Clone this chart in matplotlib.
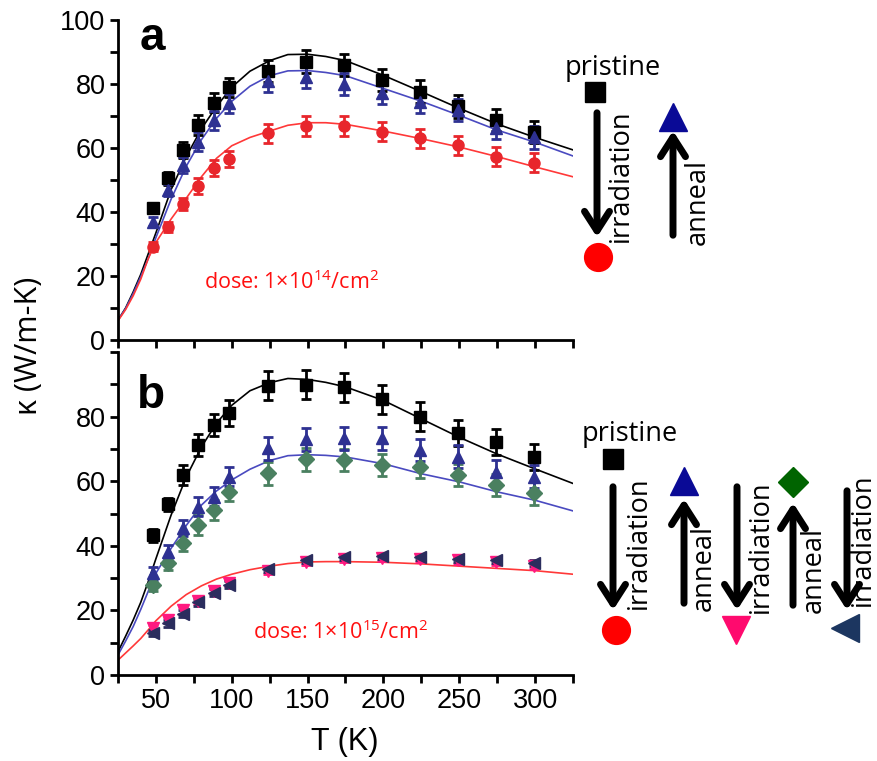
import matplotlib
matplotlib.use('Agg')
import matplotlib.pyplot as plt
from matplotlib.patches import FancyArrowPatch
from matplotlib.ticker import MultipleLocator

plt.rcParams['font.family'] = ['Liberation Sans', 'DejaVu Sans']
plt.rcParams['mathtext.fontset'] = 'custom'
plt.rcParams['mathtext.rm'] = 'Open Sans'

# measured points
T_pts = [48, 58, 68, 78, 88, 98, 124, 149, 174, 199, 224, 249, 274, 299]

a_black = [41.1, 50.5, 59.4, 67.2, 74.2, 79, 84, 87, 86, 81.3, 77.6, 73, 68.8, 65]
a_black_err = [1.5, 2, 2.5, 3, 3, 3, 3.5, 3.5, 3.5, 3.5, 3.5, 3.5, 3.5, 3.5]
a_blue = [37, 46.9, 54.7, 62, 68.7, 74, 81, 82.3, 80, 77.2, 74.5, 71.9, 66.2, 63.3]
a_blue_err = [1.5, 2, 2.5, 3, 3, 3, 3.5, 3.5, 3.5, 3.5, 3.5, 3.5, 3.5, 3.5]
a_red = [29.2, 35.4, 42.5, 48.1, 53.6, 56.5, 64.6, 66.9, 66.9, 65.1, 63, 60.9, 57.3, 55.4]
a_red_err = [1.5, 1.5, 2, 2.5, 2.5, 2.5, 3, 3, 3, 3, 3, 3, 3, 3]

b_black = [43.3, 52.9, 61.9, 71.2, 77.4, 81, 89.5, 89.8, 89.1, 85.3, 80, 74.8, 72.2, 67.6]
b_black_err = [2, 2, 3, 3.5, 3.5, 4, 4.5, 4.5, 4.5, 4.5, 4.5, 4, 4, 4]
b_blue = [31.5, 38.2, 45.4, 52.1, 55.2, 61.4, 70.2, 73, 73.3, 73.3, 69.7, 67.6, 63, 61.4]
b_blue_err = [2, 2, 2.5, 3, 3, 3, 3.5, 3.5, 3.5, 3.5, 3.5, 3.5, 3.5, 3.5]
b_green = [27.9, 34.6, 41, 46.4, 51.1, 56.8, 62.4, 66.8, 66.6, 65, 64.5, 61.9, 58.8, 56.2]
b_green_err = [2, 2, 2.5, 3, 3, 3, 3.5, 3.5, 3.5, 3.5, 3.5, 3.5, 3.5, 3.5]
b_pink = [14.5, 17, 20, 23, 26, 28.5, 32.3, 35, 36, 36.3, 36, 35.5, 35, 33.8]
b_navy = [13, 16, 19, 22.5, 25.5, 28, 32.8, 35.6, 36.5, 36.8, 36.5, 36, 35.6, 34.6]
b_small_err = [1, 1, 1, 1, 1, 1, 1, 1, 1, 1, 1, 1, 1, 1]

# fitted curves
T_fit = [25, 30, 35, 40, 45, 50, 60, 70, 80, 90, 100, 112, 125, 137, 150, 162, 175,
         200, 225, 250, 275, 300, 325]
a_black_fit = [6.2, 10, 15, 20.5, 27, 33.5, 47, 57.3, 66, 73, 79, 84, 87.3, 89.2, 89.3,
               88.6, 87.3, 82.7, 77.6, 72.4, 67.5, 63.3, 59.4]
a_blue_fit = [6.2, 9.8, 14.5, 19.8, 25.5, 32, 44, 54.3, 62.6, 69.3, 74.6, 79.3, 82.6, 84.1,
              84.2, 83.6, 82.6, 78.6, 74.6, 70.2, 65.6, 61.8, 57.5]
a_red_fit = [6, 9.5, 13.8, 19, 25.5, 30.5, 37.8, 44.3, 51, 56.8, 60.7, 63.3, 65.3, 67.1,
             67.9, 67.9, 67.4, 65.3, 62.9, 60.3, 57.3, 54.1, 51]
b_black_fit = [7.2, 12, 17, 22.5, 29, 36, 49.5, 61.3, 70.6, 78, 83.5, 88, 90.5, 91.8, 91.5,
               90.6, 89.2, 85, 79.3, 73.6, 68.4, 63.8, 59.3]
b_blue_fit = [6.2, 10.5, 15, 20.3, 26, 31.5, 39.2, 46.3, 52.6, 57, 60.4, 63.7, 66.4, 67.9,
              68.2, 68, 67.5, 65.4, 62.3, 59.8, 56.7, 54.1, 50.8]
b_red_fit = [4.6, 6.8, 9, 11.3, 14, 16.8, 21.3, 24.9, 27.6, 29.7, 31.2, 32.6, 33.7, 34.5,
             35, 35.1, 35.1, 34.9, 34.4, 33.7, 33, 32.3, 31.2]

W, H = 878, 761
fig = plt.figure(figsize=(W / 100, H / 100), dpi=100)


def fx(px):
    return px / W


def fy(py):
    return 1 - py / H


ax1 = fig.add_axes([fx(118), fy(340), fx(573) - fx(118), fy(20) - fy(340)])
ax2 = fig.add_axes([fx(118), fy(675), fx(573) - fx(118), fy(352) - fy(675)])

eb = dict(capsize=3.5, elinewidth=2, capthick=2, ls='none', markersize=8, zorder=3)

ax1.plot(T_fit, a_black_fit, color='black', lw=1.2)
ax1.plot(T_fit, a_blue_fit, color='#4a4ac0', lw=1.2)
ax1.plot(T_fit, a_red_fit, color='#ff3838', lw=1.2)
ax1.errorbar(T_pts, a_black, yerr=a_black_err, marker='s', color='black', **eb)
ax1.errorbar(T_pts, a_blue, yerr=a_blue_err, marker='^', color='#2e3192', **eb)
ax1.errorbar(T_pts, a_red, yerr=a_red_err, marker='o', color='#e8262c', **eb)

ax2.plot(T_fit, b_black_fit, color='black', lw=1.2)
ax2.plot(T_fit, b_blue_fit, color='#4a4ac0', lw=1.2)
ax2.plot(T_fit, b_red_fit, color='#ff3838', lw=1.2)
ax2.errorbar(T_pts, b_black, yerr=b_black_err, marker='s', color='black', **eb)
ax2.errorbar(T_pts, b_green, yerr=b_green_err, marker='D', color='#4a8060', **eb)
ax2.errorbar(T_pts, b_blue, yerr=b_blue_err, marker='^', color='#2e3192', **eb)
ax2.errorbar(T_pts, b_pink, yerr=b_small_err, marker='v', color='#ff1a80', **eb)
ax2.errorbar(T_pts, b_navy, yerr=b_small_err, marker='<', color='#2b2d5e', **eb)

for ax in (ax1, ax2):
    ax.set_xlim(25, 325)
    ax.set_ylim(0, 100)
    ax.spines['top'].set_visible(False)
    ax.spines['right'].set_visible(False)
    ax.spines['left'].set_linewidth(2)
    ax.spines['bottom'].set_linewidth(2)
    ax.xaxis.set_major_locator(MultipleLocator(50))
    ax.xaxis.set_minor_locator(MultipleLocator(25))
    ax.yaxis.set_major_locator(MultipleLocator(20))
    ax.yaxis.set_minor_locator(MultipleLocator(10))
    ax.tick_params(which='major', length=6, width=2, labelsize=19.5, pad=3)
    ax.tick_params(which='minor', length=6, width=2)

ax1.tick_params(axis='x', labelbottom=False)
ax2.set_yticks([0, 20, 40, 60, 80])
ax2.set_yticks([10, 30, 50, 70, 90, 100], minor=True)
fig.text(fx(345), fy(742), 'T (K)', fontsize=22, ha='center', va='center')
fig.text(fx(29), fy(346), 'κ (W/m-K)', rotation=90, fontsize=22, family='Open Sans',
         ha='center', va='center')

fig.text(fx(152), fy(38), 'a', fontsize=33, fontweight='bold', ha='center', va='center')
fig.text(fx(151), fy(396), 'b', fontsize=33, fontweight='bold', ha='center', va='center')

fig.text(fx(291), fy(282), r'dose: 1$\times$10$^{14}$/cm$^{2}$', color='#ff1010', fontsize=15.5,
         family='Open Sans', ha='center', va='center')
fig.text(fx(340), fy(632), r'dose: 1$\times$10$^{15}$/cm$^{2}$', color='#ff1010', fontsize=15.5,
         family='Open Sans', ha='center', va='center')

# schematic on the right
lab = dict(family='Open Sans', fontsize=19.5, ha='center', va='center')


def arrow(x, y0, y1):
    fig.add_artist(FancyArrowPatch((fx(x), fy(y0)), (fx(x), fy(y1)), transform=fig.transFigure,
                                   arrowstyle='->,head_length=0.7,head_width=0.45',
                                   mutation_scale=20, lw=5, color='black'))


def mark(x, y, m, c, s):
    fig.add_artist(plt.Line2D([fx(x)], [fy(y)], marker=m, color=c, markersize=s,
                              transform=fig.transFigure))


fig.text(fx(613), fy(68), 'pristine', **lab)
mark(595, 92, 's', 'black', 14)
arrow(597, 110, 240)
fig.text(fx(621), fy(176), 'irradiation', rotation=90, **lab)
mark(598, 257, 'o', '#ff0000', 20)
mark(673, 117, '^', '#0a0a96', 20)
arrow(673, 238, 128)
fig.text(fx(698), fy(202), 'anneal', rotation=90, **lab)

fig.text(fx(630), fy(434), 'pristine', **lab)
mark(613, 459, 's', 'black', 14)
arrow(613, 484, 613)
fig.text(fx(639), fy(543), 'irradiation', rotation=90, **lab)
mark(616, 630, 'o', '#ff0000', 20)
mark(684, 481, '^', '#0a0a96', 20)
arrow(684, 606, 496)
fig.text(fx(704), fy(568), 'anneal', rotation=90, **lab)
arrow(737, 484, 613)
fig.text(fx(761), fy(547), 'irradiation', rotation=90, **lab)
mark(736, 630, 'v', '#ff0a6e', 20)
mark(793, 482, 'D', '#006400', 15)
arrow(793, 608, 500)
fig.text(fx(814), fy(570), 'anneal', rotation=90, **lab)
arrow(847, 488, 613)
fig.text(fx(863), fy(540), 'irradiation', rotation=90, **lab)
mark(845, 628, '<', '#1c3660', 20)

fig.savefig('out.png', dpi=100)
